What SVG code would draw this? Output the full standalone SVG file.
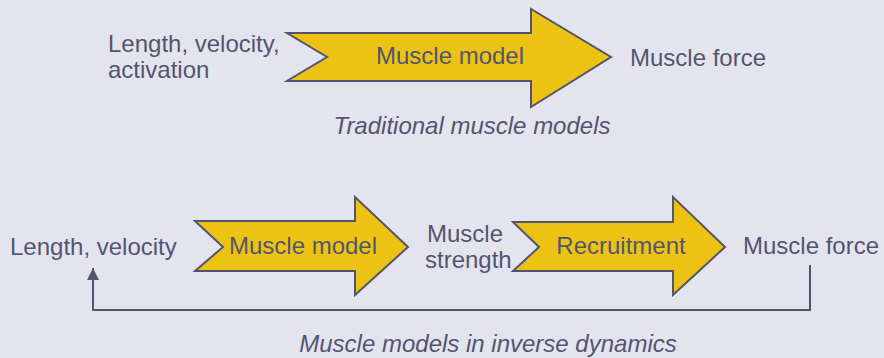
<svg xmlns="http://www.w3.org/2000/svg" width="884" height="358" viewBox="0 0 884 358">
<style>
.bg{fill:#E4E4EE}
.t{font-family:"Liberation Sans",Arial,sans-serif;font-size:24px;fill:#535570}
.i{font-style:italic}
.m{text-anchor:middle}
.arrow{fill:#ECC313;stroke:#535570;stroke-width:2;stroke-linejoin:miter}
.conn{fill:none;stroke:#535570;stroke-width:2}
</style>
<defs>
<marker id="ah" viewBox="0 0 12 12" refX="12" refY="6" markerWidth="12" markerHeight="12" markerUnits="userSpaceOnUse" orient="auto">
<path d="M0,0 L12,6 L0,12 Z" fill="#535570"/>
</marker>
</defs>
<rect class="bg" x="0" y="0" width="884" height="358"/>
<g id="top-input"><text class="t" x="108" y="52">Length, velocity,</text><text class="t" x="108" y="78">activation</text></g>
<g id="top-muscle-model"><polygon class="arrow" points="287,33 531,33 531,9 611,57 531,107 531,81 287,81 327,57"/><text class="t m" x="450" y="64">Muscle model</text></g>
<g id="top-output"><text class="t" x="630" y="66">Muscle force</text></g>
<g id="caption-top"><text class="t i m" x="472" y="134">Traditional muscle models</text></g>
<g id="bottom-input"><text class="t" x="10" y="255">Length, velocity</text></g>
<g id="bottom-muscle-model"><polygon class="arrow" points="195,221 355,221 355,197 408,247 355,295 355,271 195,271 223,247"/><text class="t m" x="303" y="254">Muscle model</text></g>
<g id="muscle-strength"><text class="t" x="427" y="242">Muscle</text><text class="t" x="425" y="268">strength</text></g>
<g id="recruitment"><polygon class="arrow" points="513,222 673,222 673,197 725,247 673,295 673,271 513,271 539,247"/><text class="t m" x="621" y="254">Recruitment</text></g>
<g id="bottom-output"><text class="t" x="743" y="254">Muscle force</text></g>
<g id="connectors"><polyline class="conn" points="810,265 810,310 93,310 93,268" marker-end="url(#ah)"/></g>
<g id="caption-bottom"><text class="t i m" x="488" y="352">Muscle models in inverse dynamics</text></g>
</svg>
